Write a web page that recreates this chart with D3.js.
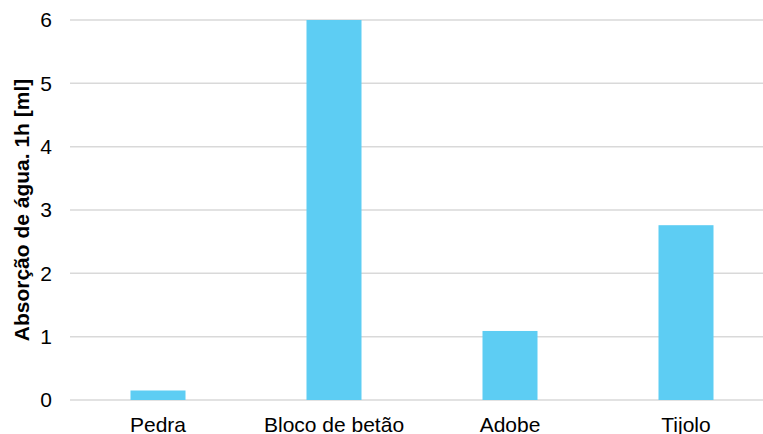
<!DOCTYPE html>
<html>
<head>
<meta charset="utf-8">
<script src="https://cdn.jsdelivr.net/npm/d3@7"></script>
<style>
  html, body { margin: 0; padding: 0; background: #fff; }
  svg { display: block; }
  text { font-family: "Liberation Sans", Arial, sans-serif; fill: #000; }
</style>
</head>
<body>
<svg id="chart" width="763" height="434"></svg>
<script>
// Water absorption after 1 hour, per material
const categories = ["Pedra", "Bloco de betão", "Adobe", "Tijolo"];
const absorption = [0.15, 6.0, 1.09, 2.76];
const yTicks = [0, 1, 2, 3, 4, 5, 6];
const yTitle = "Absorção de água. 1h [ml]";

const svg = d3.select("#chart");
const plotLeft = 70, plotRight = 774, plotTop = 20, plotBottom = 400;
const fontSize = "21px";

const x = d3.scaleBand()
  .domain(categories)
  .range([plotLeft, plotRight])
  .paddingInner(0.6875)
  .paddingOuter(0.34375);

const y = d3.scaleLinear().domain([0, 6]).range([plotBottom, plotTop]);

// horizontal gridlines
svg.append("g")
  .selectAll("line")
  .data(yTicks)
  .join("line")
  .attr("x1", plotLeft)
  .attr("x2", 763)
  .attr("y1", d => y(d))
  .attr("y2", d => y(d))
  .attr("stroke", "#d9d9d9")
  .attr("stroke-width", 1.5);

// bars
svg.append("g")
  .selectAll("rect")
  .data(categories.map((c, i) => ({ c, v: absorption[i] })))
  .join("rect")
  .attr("x", d => x(d.c))
  .attr("width", x.bandwidth())
  .attr("y", d => y(d.v))
  .attr("height", d => y(0) - y(d.v))
  .attr("fill", "#5dcdf3");

// y axis labels
const yAxis = svg.append("g")
  .attr("transform", `translate(${plotLeft - 18},0)`)
  .call(d3.axisLeft(y).tickValues(yTicks).tickSize(0).tickPadding(0).tickFormat(d3.format("d")));
yAxis.select(".domain").remove();
yAxis.selectAll("text")
  .style("font-family", "Liberation Sans, Arial, sans-serif")
  .style("font-size", fontSize)
  .attr("fill", "#000");

// x axis labels
const xAxis = svg.append("g")
  .attr("transform", `translate(0,${plotBottom})`)
  .call(d3.axisBottom(x).tickSize(0).tickPadding(17));
xAxis.select(".domain").remove();
xAxis.selectAll("text")
  .style("font-family", "Liberation Sans, Arial, sans-serif")
  .style("font-size", fontSize)
  .attr("fill", "#000");

// y axis title
svg.append("text")
  .attr("transform", `translate(29,${(plotTop + plotBottom) / 2}) rotate(-90)`)
  .attr("text-anchor", "middle")
  .style("font-size", fontSize)
  .style("font-weight", "bold")
  .text(yTitle);
</script>
</body>
</html>
